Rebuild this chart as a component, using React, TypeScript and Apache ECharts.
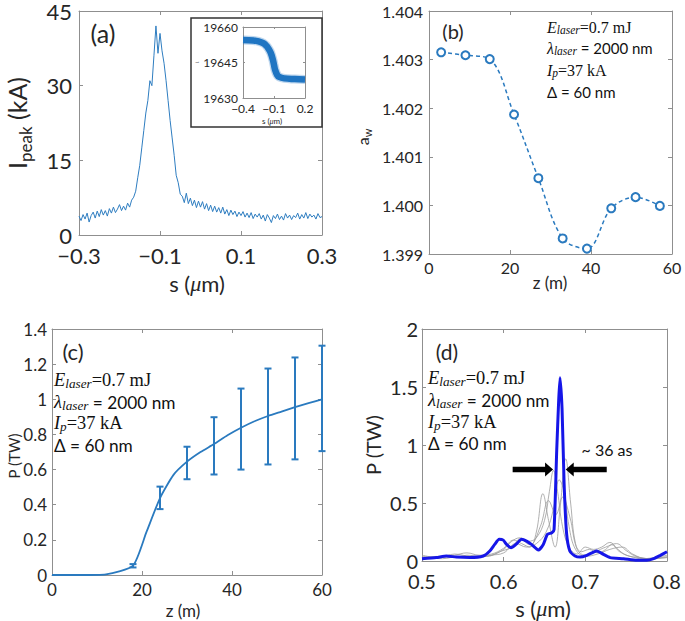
import React, { useEffect, useRef } from "react";
import * as echarts from "echarts";

const FONT = "Lato, 'Open Sans', sans-serif";
const SERIF = "'Liberation Serif', 'DejaVu Serif', serif";
const AXIS_COLOR = "#8f8f8f";
const LABEL_COLOR = "#262626";
const BLUE = "#2a7abf";

// ---------- (a) peak current ----------
const aS = [
  -0.3, -0.295, -0.29, -0.285, -0.28, -0.275, -0.27, -0.265, -0.26, -0.255,
  -0.25, -0.245, -0.24, -0.235, -0.23, -0.225, -0.22, -0.215, -0.21, -0.205,
  -0.2, -0.195, -0.19, -0.185, -0.18, -0.175, -0.17, -0.165, -0.16, -0.155,
  -0.15, -0.145, -0.14, -0.135, -0.13, -0.125, -0.12, -0.115, -0.11, -0.105,
  -0.1, -0.095, -0.09, -0.085, -0.08, -0.075, -0.07, -0.065, -0.06, -0.055,
  -0.05, -0.045, -0.04, -0.035, -0.03, -0.025, -0.02, -0.015, -0.01, -0.005,
  0.0, 0.005, 0.01, 0.015, 0.02, 0.025, 0.03, 0.035, 0.04, 0.045,
  0.05, 0.055, 0.06, 0.065, 0.07, 0.075, 0.08, 0.085, 0.09, 0.095,
  0.1, 0.105, 0.11, 0.115, 0.12, 0.125, 0.13, 0.135, 0.14, 0.145,
  0.15, 0.155, 0.16, 0.165, 0.17, 0.175, 0.18, 0.185, 0.19, 0.195,
  0.2, 0.205, 0.21, 0.215, 0.22, 0.225, 0.23, 0.235, 0.24, 0.245,
  0.25, 0.255, 0.26, 0.265, 0.27, 0.275, 0.28, 0.285, 0.29, 0.295,
  0.3,
];
const aIpeak = [
  3.8, 2.9, 4.1, 3.2, 4.4, 2.6, 3.9, 4.6, 3.4, 4.8,
  3.7, 5.1, 4.0, 4.9, 3.8, 5.3, 4.4, 5.6, 4.5, 5.2,
  6.1, 4.9, 5.8, 5.0, 6.4, 5.6, 7.0, 7.6, 8.8, 11.5,
  14.0, 17.5, 21.0, 24.5, 27.0, 31.0, 30.0, 36.0, 42.0, 36.5,
  40.5, 37.0, 34.5, 31.0, 27.0, 23.0, 19.5, 16.0, 12.0, 10.5,
  8.2, 7.8, 6.5, 8.4, 6.3, 7.4, 5.9, 7.0, 5.5, 6.8,
  5.6, 6.7, 5.2, 6.3, 4.9, 6.0, 4.7, 5.8, 4.6, 5.5,
  4.4, 5.6, 4.2, 5.1, 3.9, 5.0, 4.1, 4.8, 3.7, 4.6,
  3.9, 4.7, 3.6, 4.4, 3.5, 4.5, 3.3, 4.2, 3.6, 4.3,
  3.2, 4.0, 2.8, 4.1, 3.4, 2.5, 3.9, 3.3, 4.2, 3.1,
  3.8, 3.0, 4.3, 3.4, 4.0, 3.1, 3.9, 3.5, 4.4, 3.2,
  4.1, 3.4, 4.5, 3.3, 4.2, 3.6, 4.0, 3.2, 4.3, 3.5,
  3.7,
];
const aXTicks = [-0.3, -0.1, 0.1, 0.3];

// inset of (a)
const insetS = [-0.4, -0.3, -0.25, -0.2, -0.17, -0.15, -0.13, -0.11, -0.1, -0.09, -0.07, -0.05, 0.0, 0.1, 0.2];
const insetE = [19654.5, 19654.3, 19653.9, 19653.1, 19651.9, 19650.6, 19648.9, 19646, 19644, 19642, 19639.8, 19638.9, 19638.3, 19638.0, 19637.8];
const insetXTicks = [-0.4, -0.1, 0.2];
const insetYTicks = [19630, 19645, 19660];

// ---------- (b) a_w ----------
const bZ = [3, 9, 15, 21, 27, 33, 39, 45, 51, 57];
const bAw = [1.40315, 1.40309, 1.40301, 1.40187, 1.40056, 1.39932, 1.39911, 1.39994, 1.40017, 1.39999];

// ---------- (c) power vs z ----------
const cZ = [0, 6, 12, 18, 21, 24, 27, 30, 33, 36, 39, 42, 45, 48, 51, 54, 57, 60];
const cP = [0, 0, 0.004, 0.053, 0.245, 0.438, 0.57, 0.645, 0.7, 0.745, 0.795, 0.838, 0.875, 0.905, 0.93, 0.955, 0.978, 1.0];
const errZ = [18, 24, 30, 36, 42, 48, 54, 60];
const errLo = [0.043, 0.375, 0.545, 0.572, 0.6, 0.629, 0.658, 0.705];
const errHi = [0.062, 0.503, 0.73, 0.898, 1.061, 1.175, 1.238, 1.305];

// ---------- (d) power profile ----------
const dS = [0.5, 0.5176, 0.53, 0.542, 0.5585, 0.575, 0.583, 0.589, 0.5945, 0.5995, 0.6035, 0.609, 0.615, 0.622, 0.628, 0.634, 0.6425, 0.6485, 0.6535, 0.659, 0.6617, 0.665, 0.6674, 0.669, 0.6715, 0.674, 0.677, 0.681, 0.6874, 0.6936, 0.7018, 0.71, 0.714, 0.7222, 0.7304, 0.7468, 0.763, 0.7754, 0.7836, 0.7918, 0.8];
const dP = [0.02, 0.03, 0.043, 0.034, 0.03, 0.043, 0.086, 0.143, 0.187, 0.18, 0.143, 0.115, 0.143, 0.187, 0.172, 0.143, 0.095, 0.143, 0.23, 0.244, 0.27, 0.96, 1.39, 1.58, 1.31, 0.67, 0.24, 0.086, 0.043, 0.034, 0.049, 0.077, 0.086, 0.057, 0.029, 0.02, 0.006, 0.006, 0.02, 0.049, 0.08];
const grey1 = [[0.5, 0.04], [0.52, 0.03], [0.54, 0.05], [0.555, 0.07], [0.57, 0.05], [0.585, 0.06], [0.6, 0.11], [0.612, 0.18], [0.622, 0.15], [0.632, 0.12], [0.64, 0.25], [0.648, 0.58], [0.655, 0.35], [0.663, 0.12], [0.669, 0.45], [0.676, 0.88], [0.682, 0.5], [0.688, 0.15], [0.695, 0.08], [0.705, 0.1], [0.715, 0.07], [0.725, 0.1], [0.732, 0.14], [0.742, 0.08], [0.755, 0.04], [0.77, 0.02], [0.785, 0.03], [0.8, 0.05]];
const grey2 = [[0.5, 0.02], [0.52, 0.04], [0.54, 0.03], [0.555, 0.05], [0.57, 0.04], [0.585, 0.05], [0.6, 0.1], [0.61, 0.17], [0.62, 0.2], [0.63, 0.17], [0.64, 0.2], [0.65, 0.35], [0.656, 0.6], [0.661, 0.78], [0.666, 0.6], [0.672, 0.3], [0.68, 0.12], [0.69, 0.06], [0.7, 0.12], [0.71, 0.1], [0.72, 0.12], [0.73, 0.16], [0.74, 0.1], [0.75, 0.05], [0.765, 0.03], [0.78, 0.02], [0.8, 0.04]];
const grey3 = [[0.5, 0.05], [0.52, 0.03], [0.54, 0.06], [0.56, 0.04], [0.58, 0.04], [0.595, 0.08], [0.61, 0.12], [0.62, 0.19], [0.632, 0.14], [0.645, 0.3], [0.655, 0.52], [0.664, 0.4], [0.672, 0.55], [0.681, 0.38], [0.69, 0.1], [0.7, 0.05], [0.712, 0.08], [0.725, 0.12], [0.738, 0.15], [0.75, 0.09], [0.762, 0.04], [0.78, 0.02], [0.8, 0.03]];
const grey4 = [[0.5, 0.03], [0.525, 0.02], [0.545, 0.04], [0.565, 0.03], [0.585, 0.05], [0.6, 0.07], [0.615, 0.15], [0.628, 0.12], [0.64, 0.15], [0.652, 0.25], [0.661, 0.45], [0.668, 0.7], [0.674, 0.6], [0.68, 0.3], [0.688, 0.1], [0.7, 0.04], [0.715, 0.06], [0.73, 0.1], [0.745, 0.12], [0.758, 0.06], [0.775, 0.02], [0.8, 0.03]];
// arrows: [from s, to s, P]
const arrows = [[0.611, 0.6605, 0.789], [0.7262, 0.676, 0.789]];

const minusFmt = (v: number) => (v < 0 ? "\u2212" : "") + Math.abs(v).toFixed(1);

function axisPair(gridIndex: number, cfg: any, isX: boolean) {
  const common: any = {
    type: "value",
    gridIndex,
    min: cfg.min,
    max: cfg.max,
    z: cfg.z || 0,
    splitLine: { show: false },
    axisLine: { show: true, onZero: false, lineStyle: { color: AXIS_COLOR, width: 1 } },
  };
  if (cfg.interval !== undefined) common.interval = cfg.interval;
  const tick: any = { show: true, inside: true, length: cfg.tickLen ?? 4, lineStyle: { color: AXIS_COLOR, width: 1 } };
  if (cfg.ticks) tick.customValues = cfg.ticks;
  const label: any = {
    show: true,
    fontSize: cfg.fontSize,
    lineHeight: cfg.lineHeight ?? cfg.fontSize,
    fontFamily: FONT,
    color: LABEL_COLOR,
    margin: cfg.margin,
    showMinLabel: true,
    showMaxLabel: true,
  };
  if (cfg.formatter) label.formatter = cfg.formatter;
  if (cfg.ticks) label.customValues = cfg.ticks;
  const main = { ...common, position: isX ? "bottom" : "left", axisTick: tick, axisLabel: label };
  const mirror = { ...common, position: isX ? "top" : "right", axisTick: tick, axisLabel: { show: false } };
  return [main, mirror];
}

function txt(x: number, y: number, text: string, fontSize: number, opts: any = {}) {
  return {
    type: "text",
    x,
    y,
    z: 100,
    rotation: opts.rotation || 0,
    style: {
      text,
      fontSize,
      fontFamily: opts.fontFamily || FONT,
      fontStyle: opts.fontStyle || "normal",
      fill: opts.fill || LABEL_COLOR,
      align: opts.align || "center",
      verticalAlign: "middle",
      rich: opts.rich,
    },
  };
}

function paramBlock(x: number, ys: number[], s: number) {
  const fill = "#111";
  const rich = {
    i: { fontFamily: SERIF, fontStyle: "italic", fontSize: 16 * s, lineHeight: 18 * s, verticalAlign: "middle", fill },
    s: { fontFamily: SERIF, fontStyle: "italic", fontSize: 11.5 * s, lineHeight: 9 * s, verticalAlign: "bottom", fill },
    r: { fontFamily: SERIF, fontSize: 16 * s, lineHeight: 18 * s, verticalAlign: "middle", fill },
    n: { fontFamily: FONT, fontSize: 15 * s, lineHeight: 18 * s, verticalAlign: "middle", fill },
  };
  const lines = [
    "{i|E}{s|laser}{r|=0.7 mJ}",
    "{i|\u03bb}{s|laser}{n| = 2000 nm}",
    "{i|I}{s|p}{r|=37 kA}",
    "{n|\u0394 = 60 nm}",
  ];
  return lines.map((t, k) => ({
    type: "text",
    x,
    y: ys[k],
    z: 100,
    style: { text: t, rich, fill, align: "left", verticalAlign: "middle" },
  }));
}

function buildOption(): any {
  const xAxes = [
    ...axisPair(0, { min: -0.3, max: 0.3, ticks: aXTicks, fontSize: 22, lineHeight: 18, margin: 11, formatter: minusFmt }, true),
    ...axisPair(1, { min: -0.4, max: 0.2, ticks: insetXTicks, fontSize: 12, lineHeight: 10, margin: 5, formatter: minusFmt, tickLen: 2, z: 3 }, true),
    ...axisPair(2, { min: 0, max: 60, interval: 20, fontSize: 16, margin: 5 }, true),
    ...axisPair(3, { min: 0, max: 60, interval: 20, fontSize: 17, margin: 6 }, true),
    ...axisPair(4, { min: 0.5, max: 0.8, interval: 0.1, fontSize: 20, lineHeight: 17, margin: 11 }, true),
  ];
  const yAxes = [
    ...axisPair(0, { min: 0, max: 45, interval: 15, fontSize: 22, lineHeight: 18, margin: 7 }, false),
    ...axisPair(1, { min: 19630, max: 19660, ticks: insetYTicks, fontSize: 12, lineHeight: 10, margin: 5, tickLen: 2, z: 3, formatter: (v: number) => String(v) }, false),
    ...axisPair(2, { min: 1.399, max: 1.404, interval: 0.001, fontSize: 16, margin: 6, formatter: (v: number) => v.toFixed(3) }, false),
    ...axisPair(3, { min: 0, max: 1.4, interval: 0.2, fontSize: 17, margin: 5 }, false),
    ...axisPair(4, { min: 0, max: 2, interval: 0.5, fontSize: 20, lineHeight: 17, margin: 4 }, false),
  ];

  const greyStyle = { color: "#9c9c9c", width: 0.8 };
  const greySeries = [grey1, grey2, grey3, grey4].map((g) => ({
    type: "line",
    xAxisIndex: 8,
    yAxisIndex: 8,
    data: g,
    showSymbol: false,
    smooth: 0.4,
    lineStyle: greyStyle,
    z: 2,
  }));

  const series: any[] = [
    {
      type: "line",
      xAxisIndex: 0,
      yAxisIndex: 0,
      data: aS.map((s, i) => [s, aIpeak[i]]),
      showSymbol: false,
      lineStyle: { color: "#2e7dc0", width: 1 },
      z: 2,
    },
    {
      type: "line",
      xAxisIndex: 2,
      yAxisIndex: 2,
      data: insetS.map((s, i) => [s, insetE[i]]),
      showSymbol: false,
      smooth: 0.4,
      lineStyle: { color: "#2a7cc6", width: 9, opacity: 0.3 },
      z: 4,
    },
    {
      type: "line",
      xAxisIndex: 2,
      yAxisIndex: 2,
      data: insetS.map((s, i) => [s, insetE[i]]),
      showSymbol: false,
      smooth: 0.4,
      lineStyle: { color: "#1f75c2", width: 6.5 },
      z: 5,
    },
    {
      type: "line",
      xAxisIndex: 4,
      yAxisIndex: 4,
      data: bZ.map((z, i) => [z, bAw[i]]),
      smooth: 0.35,
      symbol: "emptyCircle",
      symbolSize: 8,
      itemStyle: { color: BLUE, borderWidth: 1.3 },
      lineStyle: { color: BLUE, width: 1.5, type: [4, 3] },
      z: 2,
    },
    {
      type: "line",
      xAxisIndex: 6,
      yAxisIndex: 6,
      data: cZ.map((z, i) => [z, cP[i]]),
      showSymbol: false,
      smooth: 0.2,
      lineStyle: { color: BLUE, width: 1.8 },
      z: 2,
    },
    {
      type: "custom",
      xAxisIndex: 6,
      yAxisIndex: 6,
      data: errZ.map((z, i) => [z, errLo[i], errHi[i]]),
      encode: { x: 0, y: [1, 2] },
      z: 3,
      renderItem: (params: any, api: any) => {
        const x = api.value(0);
        const a = api.coord([x, api.value(1)]);
        const b = api.coord([x, api.value(2)]);
        const w = 3.5;
        const style = { stroke: BLUE, lineWidth: 2 };
        return {
          type: "group",
          children: [
            { type: "line", shape: { x1: a[0], y1: a[1], x2: b[0], y2: b[1] }, style },
            { type: "line", shape: { x1: a[0] - w, y1: a[1], x2: a[0] + w, y2: a[1] }, style },
            { type: "line", shape: { x1: b[0] - w, y1: b[1], x2: b[0] + w, y2: b[1] }, style },
          ],
        };
      },
    },
    ...greySeries,
    {
      type: "line",
      xAxisIndex: 8,
      yAxisIndex: 8,
      data: dS.map((s, i) => [s, dP[i]]),
      showSymbol: false,
      smooth: 0.2,
      lineStyle: { color: "#1616e8", width: 3 },
      z: 3,
    },
    {
      type: "custom",
      xAxisIndex: 8,
      yAxisIndex: 8,
      data: arrows,
      encode: { x: [0, 1], y: 2 },
      z: 4,
      renderItem: (params: any, api: any) => {
        const p0 = api.coord([api.value(0), api.value(2)]);
        const p1 = api.coord([api.value(1), api.value(2)]);
        const dir = p1[0] > p0[0] ? 1 : -1;
        const head = 8;
        const hh = 7;
        const sh = 2.8;
        const bx = p1[0] - dir * head;
        const y = p0[1];
        return {
          type: "polygon",
          shape: {
            points: [
              [p0[0], y - sh],
              [bx, y - sh],
              [bx, y - hh],
              [p1[0], y],
              [bx, y + hh],
              [bx, y + sh],
              [p0[0], y + sh],
            ],
          },
          style: { fill: "#000" },
        };
      },
    },
  ];

  const graphic: any[] = [
    {
      type: "rect",
      z: 1,
      shape: { x: 191, y: 18, width: 131, height: 109 },
      style: { fill: "#fff", stroke: "#333", lineWidth: 1.5 },
    },
    // panel labels
    txt(103, 33, "(a)", 25),
    txt(453, 31, "(b)", 20),
    txt(73, 351, "(c)", 22),
    txt(447, 351, "(d)", 21),
    // (a) axis titles
    txt(197, 283, "{n|s (}{m|\u03bc}{n|m)}", 22, {
      rich: { n: { fontSize: 22, fontFamily: FONT, fill: LABEL_COLOR }, m: { fontSize: 22, fontFamily: SERIF, fontStyle: "italic", fill: LABEL_COLOR } },
    }),
    txt(17, 123, "{b|I}{s|peak}{b| (kA)}", 24, {
      rotation: Math.PI / 2,
      rich: {
        b: { fontSize: 25, fontFamily: FONT, lineHeight: 34, verticalAlign: "middle", fill: LABEL_COLOR },
        s: { fontSize: 17, fontFamily: FONT, lineHeight: 14, verticalAlign: "bottom", fill: LABEL_COLOR },
      },
    }),
    // inset titles
    txt(272, 121, "{n|s (}{m|\u03bc}{n|m)}", 8, {
      rich: { n: { fontSize: 8, lineHeight: 8, fontFamily: FONT, fill: LABEL_COLOR }, m: { fontSize: 8, lineHeight: 8, fontFamily: SERIF, fontStyle: "italic", fill: LABEL_COLOR } },
    }),
    txt(197, 62, "~", 8, { fill: "#666" }),
    // (b)
    txt(550, 282, "z (m)", 17),
    txt(362, 137, "{b|a}{s|w}", 16, {
      rotation: Math.PI / 2,
      rich: {
        b: { fontSize: 16, fontFamily: FONT, lineHeight: 22, verticalAlign: "middle", fill: LABEL_COLOR },
        s: { fontSize: 11, fontFamily: FONT, lineHeight: 10, verticalAlign: "bottom", fill: LABEL_COLOR },
      },
    }),
    // (c)
    txt(183, 610, "z (m)", 17),
    txt(14, 456, "P (TW)", 15, { rotation: Math.PI / 2 }),
    // (d)
    txt(543, 608, "{n|s (}{m|\u03bc}{n|m)}", 22, {
      rich: { n: { fontSize: 22, fontFamily: FONT, fill: LABEL_COLOR }, m: { fontSize: 22, fontFamily: SERIF, fontStyle: "italic", fill: LABEL_COLOR } },
    }),
    txt(373, 445, "P (TW)", 20, { rotation: Math.PI / 2 }),
    txt(607, 449, "~ 36 as", 16, { fill: "#111" }),
    ...paramBlock(547, [27, 48, 70, 92], 1),
    ...paramBlock(54, [380, 402, 423, 445], 1.15),
    ...paramBlock(428, [378, 400, 422, 443], 1.15),
  ];

  return {
    animation: false,
    backgroundColor: "#fff",
    grid: [
      { left: 79, top: 10, width: 243, height: 225 },
      { left: 243, top: 27, width: 62, height: 71 },
      { left: 429, top: 11, width: 243, height: 243 },
      { left: 52, top: 329, width: 270, height: 246 },
      { left: 422, top: 329, width: 245, height: 232 },
    ],
    xAxis: xAxes,
    yAxis: yAxes,
    series,
    graphic,
  };
}

export default function App() {
  const ref = useRef<HTMLDivElement>(null);
  useEffect(() => {
    document.body.style.margin = "0";
    const chart = echarts.init(ref.current!, null, { renderer: "svg" });
    chart.setOption(buildOption());
    return () => chart.dispose();
  }, []);
  return <div ref={ref} style={{ width: 685, height: 621, background: "#fff" }} />;
}
